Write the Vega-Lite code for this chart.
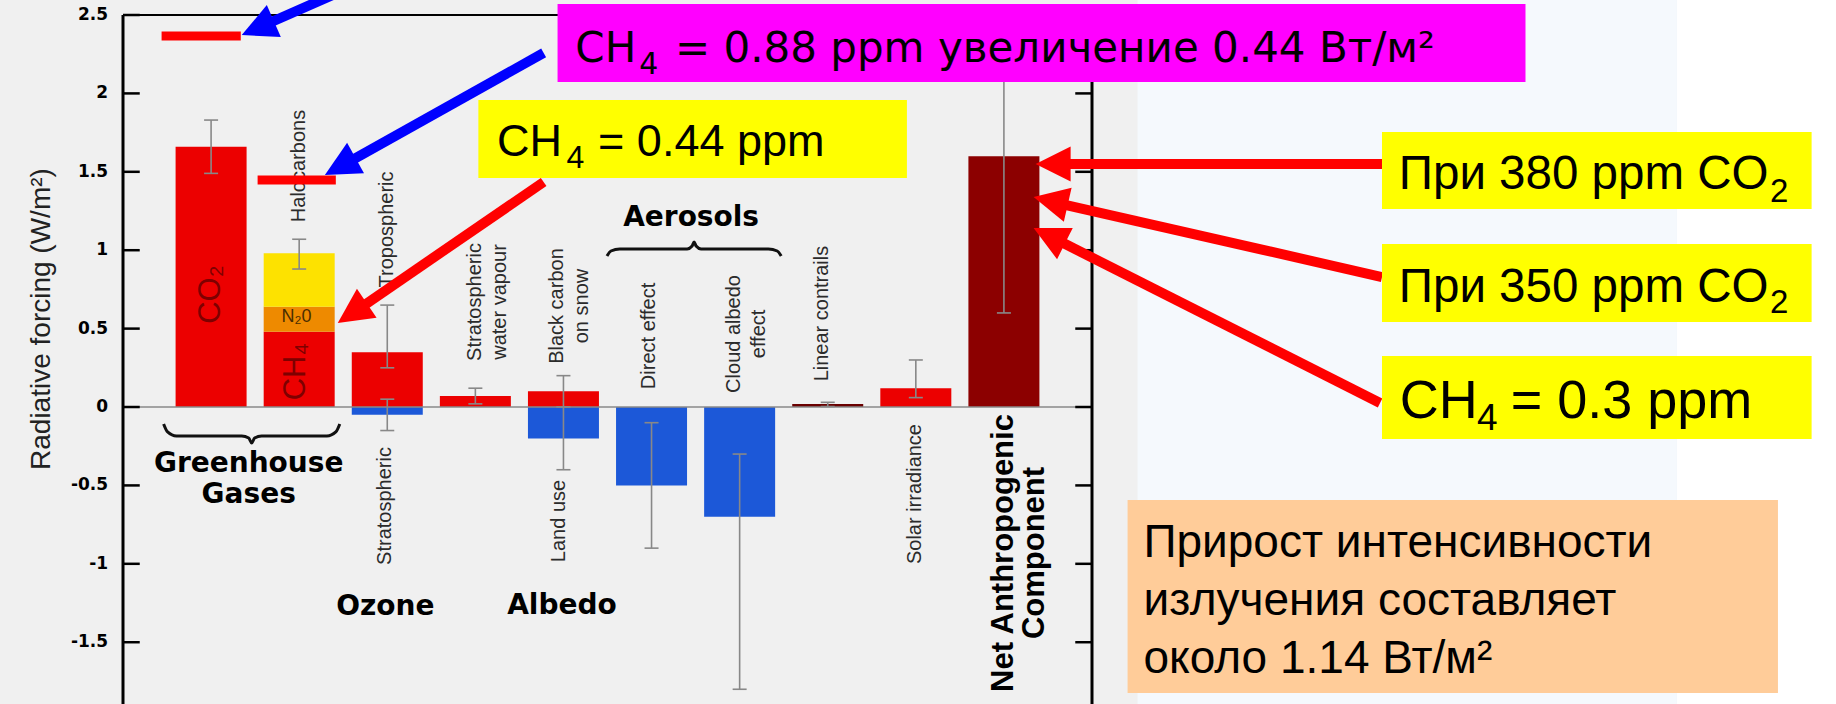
{
  "$schema": "https://vega.github.io/schema/vega-lite/v6.json",
  "width": 979,
  "height": 704,
  "autosize": {"type": "none"},
  "padding": {"left": 118, "right": 739, "top": 0, "bottom": 0},
  "background": "#f0f0f0",
  "config": {"view": {"stroke": null}},
  "datasets": {
    "bars": [
      {"cat": "CO2", "pos": 1, "lo": 0, "hi": 1.66, "comp": "pos"},
      {"cat": "CH4", "pos": 2, "lo": 0, "hi": 0.48, "comp": "pos"},
      {"cat": "N2O", "pos": 2, "lo": 0.48, "hi": 0.64, "comp": "n2o"},
      {"cat": "Halocarbons", "pos": 2, "lo": 0.64, "hi": 0.98, "comp": "halo"},
      {"cat": "Tropospheric ozone", "pos": 3, "lo": 0, "hi": 0.35, "comp": "pos"},
      {"cat": "Stratospheric ozone", "pos": 3, "lo": -0.05, "hi": 0, "comp": "neg"},
      {"cat": "Stratospheric water vapour", "pos": 4, "lo": 0, "hi": 0.07, "comp": "pos"},
      {"cat": "Black carbon on snow", "pos": 5, "lo": 0, "hi": 0.1, "comp": "pos"},
      {"cat": "Land use", "pos": 5, "lo": -0.2, "hi": 0, "comp": "neg"},
      {"cat": "Direct effect", "pos": 6, "lo": -0.5, "hi": 0, "comp": "neg"},
      {"cat": "Cloud albedo effect", "pos": 7, "lo": -0.7, "hi": 0, "comp": "neg"},
      {"cat": "Linear contrails", "pos": 8, "lo": 0, "hi": 0.02, "comp": "contrail"},
      {"cat": "Solar irradiance", "pos": 9, "lo": 0, "hi": 0.12, "comp": "pos"},
      {"cat": "Net Anthropogenic Component", "pos": 10, "lo": 0, "hi": 1.6, "comp": "net"}
    ],
    "err": [
      {"pos": 1, "lo": 1.49, "hi": 1.83},
      {"pos": 2, "lo": 0.88, "hi": 1.07},
      {"pos": 3, "lo": 0.25, "hi": 0.65},
      {"pos": 3, "lo": -0.15, "hi": 0.05},
      {"pos": 4, "lo": 0.02, "hi": 0.12},
      {"pos": 5, "lo": 0.0, "hi": 0.2},
      {"pos": 5, "lo": -0.4, "hi": 0.0},
      {"pos": 6, "lo": -0.9, "hi": -0.1},
      {"pos": 7, "lo": -1.8, "hi": -0.3},
      {"pos": 8, "lo": 0.003, "hi": 0.03},
      {"pos": 9, "lo": 0.06, "hi": 0.3},
      {"pos": 10, "lo": 0.6, "hi": 2.4}
    ],
    "ticks": [
      {"v": -1.5, "lab": "-1.5"}, {"v": -1, "lab": "-1"}, {"v": -0.5, "lab": "-0.5"}, {"v": 0, "lab": "0"},
      {"v": 0.5, "lab": "0.5"}, {"v": 1, "lab": "1"}, {"v": 1.5, "lab": "1.5"}, {"v": 2, "lab": "2"}, {"v": 2.5, "lab": "2.5"}
    ]
  },
  "layer": [
    {
      "data": {"values": [{"a": 11.517, "b": 17.64}]},
      "mark": {"type": "rect", "fill": "#f5f9fd"},
      "encoding": {
        "x": {"field": "a", "type": "quantitative", "scale": {"domain": [0, 11], "nice": false, "zero": false}, "axis": null},
        "x2": {"field": "b"},
        "y": {"datum": 2.7, "type": "quantitative", "scale": {"domain": [-1.894, 2.5957], "nice": false, "zero": false}, "axis": null},
        "y2": {"datum": -2.0}
      }
    },
    {
      "data": {"values": [{"a": 17.64, "b": 19.5}]},
      "mark": {"type": "rect", "fill": "#ffffff"},
      "encoding": {
        "x": {"field": "a", "type": "quantitative", "axis": null},
        "x2": {"field": "b"},
        "y": {"datum": 2.7, "type": "quantitative", "axis": null},
        "y2": {"datum": -2.0}
      }
    },
    {
      "data": {"name": "bars"},
      "mark": {"type": "bar", "width": 71},
      "encoding": {
        "x": {"field": "pos", "type": "quantitative", "axis": null},
        "y": {"field": "lo", "type": "quantitative", "axis": null},
        "y2": {"field": "hi"},
        "color": {
          "field": "comp", "type": "nominal", "legend": null,
          "scale": {"domain": ["pos", "neg", "n2o", "halo", "net", "contrail"], "range": ["#ec0000", "#1c58d8", "#ee8a00", "#fde200", "#8c0000", "#6a0000"]}
        }
      }
    },
    {
      "data": {"name": "ticks"},
      "mark": {"type": "text", "align": "right", "baseline": "middle", "font": "DejaVu Sans", "fontWeight": "bold", "fontSize": 17, "fill": "#000000"},
      "encoding": {
        "x": {"datum": -0.169, "type": "quantitative", "axis": null},
        "y": {"field": "v", "type": "quantitative", "axis": null},
        "text": {"field": "lab"}
      }
    },
    {
      "data": {"values": [{"t": "Radiative forcing (W/m²)"}]},
      "mark": {"type": "text", "angle": 270, "align": "center", "baseline": "alphabetic", "font": "Liberation Sans", "fontSize": 28, "fill": "#222222"},
      "encoding": {
        "x": {"datum": -0.831, "type": "quantitative", "axis": null},
        "y": {"datum": 0.561, "type": "quantitative", "axis": null},
        "text": {"field": "t"}
      }
    },
    {
      "data": {"values": [{}]},
      "mark": {"type": "rule", "stroke": "#8a8a8a", "strokeWidth": 1.3},
      "encoding": {
        "x": {"datum": 0, "type": "quantitative", "axis": null},
        "x2": {"datum": 11},
        "y": {"datum": 0, "type": "quantitative", "axis": null}
      }
    },
    {
      "data": {"values": [{}]},
      "mark": {"type": "rule", "stroke": "#000000", "strokeWidth": 3},
      "encoding": {
        "x": {"datum": 0, "type": "quantitative", "axis": null},
        "y": {"datum": -1.95, "type": "quantitative", "axis": null},
        "y2": {"datum": 2.5}
      }
    },
    {
      "data": {"values": [{}]},
      "mark": {"type": "rule", "stroke": "#000000", "strokeWidth": 3},
      "encoding": {
        "x": {"datum": 11, "type": "quantitative", "axis": null},
        "y": {"datum": -1.95, "type": "quantitative", "axis": null},
        "y2": {"datum": 2.5}
      }
    },
    {
      "data": {"values": [{}]},
      "mark": {"type": "rule", "stroke": "#000000", "strokeWidth": 2},
      "encoding": {
        "x": {"datum": 0, "type": "quantitative", "axis": null},
        "x2": {"datum": 11},
        "y": {"datum": 2.5, "type": "quantitative", "axis": null}
      }
    },
    {
      "data": {"name": "ticks"},
      "mark": {"type": "rule", "stroke": "#000000", "strokeWidth": 2.5},
      "encoding": {
        "x": {"datum": 0, "type": "quantitative", "axis": null},
        "x2": {"datum": 0.19},
        "y": {"field": "v", "type": "quantitative", "axis": null}
      }
    },
    {
      "data": {"name": "ticks"},
      "mark": {"type": "rule", "stroke": "#000000", "strokeWidth": 2.5},
      "encoding": {
        "x": {"datum": 10.81, "type": "quantitative", "axis": null},
        "x2": {"datum": 11},
        "y": {"field": "v", "type": "quantitative", "axis": null}
      }
    },
    {
      "data": {"name": "err"},
      "mark": {"type": "rule", "stroke": "#888888", "strokeWidth": 1.6},
      "encoding": {
        "x": {"field": "pos", "type": "quantitative", "axis": null},
        "y": {"field": "lo", "type": "quantitative", "axis": null},
        "y2": {"field": "hi"}
      }
    },
    {
      "data": {"name": "err"},
      "transform": [{"fold": ["lo", "hi"], "as": ["end", "val"]}],
      "mark": {"type": "tick", "orient": "horizontal", "size": 14, "thickness": 1.6, "color": "#888888", "opacity": 1},
      "encoding": {
        "x": {"field": "pos", "type": "quantitative", "axis": null},
        "y": {"field": "val", "type": "quantitative", "axis": null}
      }
    },
    {
      "data": {"values": [
        {"pos": 2, "v": 1.537, "t": "Halocarbons"},
        {"pos": 3, "v": 1.132, "t": "Tropospheric"},
        {"pos": 4, "v": 0.67, "t": "Stratospheric\nwater vapour"},
        {"pos": 4.93, "v": 0.644, "t": "Black carbon\non snow"},
        {"pos": 5.97, "v": 0.453, "t": "Direct effect"},
        {"pos": 6.94, "v": 0.466, "t": "Cloud albedo\neffect"},
        {"pos": 7.93, "v": 0.596, "t": "Linear contrails"},
        {"pos": 2.97, "v": -0.631, "t": "Stratospheric"},
        {"pos": 4.95, "v": -0.727, "t": "Land use"},
        {"pos": 8.99, "v": -0.555, "t": "Solar irradiance"}
      ]},
      "mark": {"type": "text", "angle": 270, "align": "center", "baseline": "middle", "font": "Liberation Sans", "fontSize": 20, "lineHeight": 25, "lineBreak": "\n", "fill": "#2b2b2b"},
      "encoding": {
        "x": {"field": "pos", "type": "quantitative", "axis": null},
        "y": {"field": "v", "type": "quantitative", "axis": null},
        "text": {"field": "t"}
      }
    },
    {
      "data": {"values": [{"pos": 1, "v": 0.717, "t": "CO₂"}, {"pos": 1.96, "v": 0.226, "t": "CH₄"}]},
      "mark": {"type": "text", "angle": 270, "align": "center", "baseline": "middle", "font": "Liberation Sans", "fontSize": 31, "fill": "#7e0000"},
      "encoding": {
        "x": {"field": "pos", "type": "quantitative", "axis": null},
        "y": {"field": "v", "type": "quantitative", "axis": null},
        "text": {"field": "t"}
      }
    },
    {
      "data": {"values": [{"pos": 1.97, "v": 0.571, "t": "N₂0"}]},
      "mark": {"type": "text", "align": "center", "baseline": "middle", "font": "Liberation Sans", "fontSize": 18, "fill": "#4a2e00"},
      "encoding": {
        "x": {"field": "pos", "type": "quantitative", "axis": null},
        "y": {"field": "v", "type": "quantitative", "axis": null},
        "text": {"field": "t"}
      }
    },
    {
      "data": {"values": [{"pos": 10, "v": -0.931, "t": "Net Anthropogenic\nComponent"}]},
      "mark": {"type": "text", "angle": 270, "align": "center", "baseline": "middle", "font": "Liberation Sans", "fontWeight": "bold", "fontSize": 31, "lineHeight": 31, "lineBreak": "\n", "fill": "#000000"},
      "encoding": {
        "x": {"field": "pos", "type": "quantitative", "axis": null},
        "y": {"field": "v", "type": "quantitative", "axis": null},
        "text": {"field": "t"}
      }
    },
    {
      "data": {"values": [
        {"x": 1.427, "v": -0.4145, "t": "Greenhouse\nGases"},
        {"x": 2.978, "v": -1.3265, "t": "Ozone"},
        {"x": 4.983, "v": -1.32, "t": "Albedo"},
        {"x": 6.449, "v": 1.155, "t": "Aerosols"}
      ]},
      "mark": {"type": "text", "align": "center", "baseline": "alphabetic", "font": "DejaVu Sans", "fontWeight": "bold", "fontSize": 28, "lineHeight": 31, "lineBreak": "\n", "fill": "#000000"},
      "encoding": {
        "x": {"field": "x", "type": "quantitative", "axis": null},
        "y": {"field": "v", "type": "quantitative", "axis": null},
        "text": {"field": "t"}
      }
    },
    {
      "data": {"values": [
        {"b": "g", "x": 0.461, "v": -0.108}, {"b": "g", "x": 0.506, "v": -0.159}, {"b": "g", "x": 0.607, "v": -0.185},
        {"b": "g", "x": 1.348, "v": -0.185}, {"b": "g", "x": 1.427, "v": -0.198}, {"b": "g", "x": 1.461, "v": -0.23},
        {"b": "g", "x": 1.494, "v": -0.198}, {"b": "g", "x": 1.573, "v": -0.185}, {"b": "g", "x": 2.315, "v": -0.185},
        {"b": "g", "x": 2.416, "v": -0.159}, {"b": "g", "x": 2.461, "v": -0.108},
        {"b": "a", "x": 5.494, "v": 0.963}, {"b": "a", "x": 5.539, "v": 0.995}, {"b": "a", "x": 5.64, "v": 1.008},
        {"b": "a", "x": 6.404, "v": 1.008}, {"b": "a", "x": 6.461, "v": 1.027}, {"b": "a", "x": 6.483, "v": 1.052},
        {"b": "a", "x": 6.506, "v": 1.027}, {"b": "a", "x": 6.562, "v": 1.008}, {"b": "a", "x": 7.326, "v": 1.008},
        {"b": "a", "x": 7.427, "v": 0.995}, {"b": "a", "x": 7.472, "v": 0.963}
      ]},
      "mark": {"type": "line", "interpolate": "monotone", "stroke": "#111111", "strokeWidth": 3},
      "encoding": {
        "x": {"field": "x", "type": "quantitative", "axis": null},
        "y": {"field": "v", "type": "quantitative", "axis": null},
        "detail": {"field": "b"}
      }
    },
    {
      "data": {"values": [{"a": 0.438, "b": 1.337, "v": 2.366}, {"a": 1.528, "b": 2.416, "v": 1.448}]},
      "mark": {"type": "rule", "stroke": "#ff0000", "strokeWidth": 9},
      "encoding": {
        "x": {"field": "a", "type": "quantitative", "axis": null},
        "x2": {"field": "b"},
        "y": {"field": "v", "type": "quantitative", "axis": null}
      }
    },
    {
      "data": {"values": [
        {"x1": 4.775, "y1": 1.435, "x2": 2.674, "y2": 0.625},
        {"x1": 14.292, "y1": 1.55, "x2": 10.64, "y2": 1.55},
        {"x1": 14.292, "y1": 0.829, "x2": 10.607, "y2": 1.301},
        {"x1": 14.27, "y1": 0.026, "x2": 10.584, "y2": 1.071}
      ]},
      "mark": {"type": "rule", "stroke": "#ff0000", "strokeWidth": 10},
      "encoding": {
        "x": {"field": "x1", "type": "quantitative", "axis": null},
        "y": {"field": "y1", "type": "quantitative", "axis": null},
        "x2": {"field": "x2"},
        "y2": {"field": "y2"}
      }
    },
    {
      "data": {"values": [
        {"x1": 2.382, "y1": 2.628, "x2": 1.607, "y2": 2.436},
        {"x1": 4.775, "y1": 2.258, "x2": 2.539, "y2": 1.556}
      ]},
      "mark": {"type": "rule", "stroke": "#0000ff", "strokeWidth": 10},
      "encoding": {
        "x": {"field": "x1", "type": "quantitative", "axis": null},
        "y": {"field": "y1", "type": "quantitative", "axis": null},
        "x2": {"field": "x2"},
        "y2": {"field": "y2"}
      }
    },
    {
      "data": {"values": [
        {"x": 2.438, "v": 0.536, "dir": 235.9},
        {"x": 10.36, "v": 1.55, "dir": 270},
        {"x": 10.337, "v": 1.339, "dir": 282.8},
        {"x": 10.337, "v": 1.142, "dir": 296.6}
      ]},
      "mark": {"type": "point", "shape": "M0,0L-0.5,1L0.5,1Z", "size": 4900, "filled": true, "fill": "#ff0000", "opacity": 1, "strokeWidth": 0},
      "encoding": {
        "x": {"field": "x", "type": "quantitative", "axis": null},
        "y": {"field": "v", "type": "quantitative", "axis": null},
        "angle": {"field": "dir", "type": "quantitative", "scale": null}
      }
    },
    {
      "data": {"values": [
        {"x": 1.348, "v": 2.372, "dir": 246.4},
        {"x": 2.292, "v": 1.48, "dir": 241.1}
      ]},
      "mark": {"type": "point", "shape": "M0,0L-0.5,1L0.5,1Z", "size": 4900, "filled": true, "fill": "#0000ff", "opacity": 1, "strokeWidth": 0},
      "encoding": {
        "x": {"field": "x", "type": "quantitative", "axis": null},
        "y": {"field": "v", "type": "quantitative", "axis": null},
        "angle": {"field": "dir", "type": "quantitative", "scale": null}
      }
    },
    {
      "data": {"values": [{"a": 4.933, "b": 15.921, "t": 2.57, "u": 2.073}]},
      "mark": {"type": "rect", "fill": "#ff00ff"},
      "encoding": {
        "x": {"field": "a", "type": "quantitative", "axis": null},
        "x2": {"field": "b"},
        "y": {"field": "t", "type": "quantitative", "axis": null},
        "y2": {"field": "u"}
      }
    },
    {
      "data": {"values": [
        {"a": 4.034, "b": 8.899, "t": 1.958, "u": 1.46},
        {"a": 14.292, "b": 19.169, "t": 1.754, "u": 1.263},
        {"a": 14.292, "b": 19.169, "t": 1.04, "u": 0.542},
        {"a": 14.292, "b": 19.169, "t": 0.325, "u": -0.204}
      ]},
      "mark": {"type": "rect", "fill": "#ffff00"},
      "encoding": {
        "x": {"field": "a", "type": "quantitative", "axis": null},
        "x2": {"field": "b"},
        "y": {"field": "t", "type": "quantitative", "axis": null},
        "y2": {"field": "u"}
      }
    },
    {
      "data": {"values": [{"a": 11.404, "b": 18.787, "t": -0.593, "u": -1.824}]},
      "mark": {"type": "rect", "fill": "#ffcc99"},
      "encoding": {
        "x": {"field": "a", "type": "quantitative", "axis": null},
        "x2": {"field": "b"},
        "y": {"field": "t", "type": "quantitative", "axis": null},
        "y2": {"field": "u"}
      }
    },
    {
      "data": {"values": [{"x": 5.135, "v": 2.2, "t": "CH"}, {"x": 6.265, "v": 2.2, "t": "= 0.88 ppm увеличение 0.44 Вт/м²"}]},
      "mark": {"type": "text", "align": "left", "baseline": "alphabetic", "font": "DejaVu Sans", "fontSize": 42, "fill": "#000000"},
      "encoding": {
        "x": {"field": "x", "type": "quantitative", "axis": null},
        "y": {"field": "v", "type": "quantitative", "axis": null},
        "text": {"field": "t"}
      }
    },
    {
      "data": {"values": [{"x": 5.86, "v": 2.124, "t": "4"}]},
      "mark": {"type": "text", "align": "left", "baseline": "alphabetic", "font": "DejaVu Sans", "fontSize": 30, "fill": "#000000"},
      "encoding": {
        "x": {"field": "x", "type": "quantitative", "axis": null},
        "y": {"field": "v", "type": "quantitative", "axis": null},
        "text": {"field": "t"}
      }
    },
    {
      "data": {"values": [{"x": 4.247, "v": 1.601, "t": "CH"}, {"x": 5.393, "v": 1.601, "t": "= 0.44 ppm"}]},
      "mark": {"type": "text", "align": "left", "baseline": "alphabetic", "font": "Liberation Sans", "fontSize": 45, "fill": "#000000"},
      "encoding": {
        "x": {"field": "x", "type": "quantitative", "axis": null},
        "y": {"field": "v", "type": "quantitative", "axis": null},
        "text": {"field": "t"}
      }
    },
    {
      "data": {"values": [{"x": 5.034, "v": 1.524, "t": "4"}]},
      "mark": {"type": "text", "align": "left", "baseline": "alphabetic", "font": "Liberation Sans", "fontSize": 32, "fill": "#000000"},
      "encoding": {
        "x": {"field": "x", "type": "quantitative", "axis": null},
        "y": {"field": "v", "type": "quantitative", "axis": null},
        "text": {"field": "t"}
      }
    },
    {
      "data": {"values": [{"x": 14.483, "v": 1.39, "t": "При 380 ppm CO"}, {"x": 14.483, "v": 0.67, "t": "При 350 ppm CO"}]},
      "mark": {"type": "text", "align": "left", "baseline": "alphabetic", "font": "Liberation Sans", "fontSize": 47.5, "fill": "#000000"},
      "encoding": {
        "x": {"field": "x", "type": "quantitative", "axis": null},
        "y": {"field": "v", "type": "quantitative", "axis": null},
        "text": {"field": "t"}
      }
    },
    {
      "data": {"values": [{"x": 18.697, "v": 1.309, "t": "2"}, {"x": 18.697, "v": 0.598, "t": "2"}]},
      "mark": {"type": "text", "align": "left", "baseline": "alphabetic", "font": "Liberation Sans", "fontSize": 33, "fill": "#000000"},
      "encoding": {
        "x": {"field": "x", "type": "quantitative", "axis": null},
        "y": {"field": "v", "type": "quantitative", "axis": null},
        "text": {"field": "t"}
      }
    },
    {
      "data": {"values": [{"x": 14.494, "v": -0.07, "t": "CH"}, {"x": 15.753, "v": -0.07, "t": "= 0.3 ppm"}]},
      "mark": {"type": "text", "align": "left", "baseline": "alphabetic", "font": "Liberation Sans", "fontSize": 54, "fill": "#000000"},
      "encoding": {
        "x": {"field": "x", "type": "quantitative", "axis": null},
        "y": {"field": "v", "type": "quantitative", "axis": null},
        "text": {"field": "t"}
      }
    },
    {
      "data": {"values": [{"x": 15.371, "v": -0.147, "t": "4"}]},
      "mark": {"type": "text", "align": "left", "baseline": "alphabetic", "font": "Liberation Sans", "fontSize": 37, "fill": "#000000"},
      "encoding": {
        "x": {"field": "x", "type": "quantitative", "axis": null},
        "y": {"field": "v", "type": "quantitative", "axis": null},
        "text": {"field": "t"}
      }
    },
    {
      "data": {"values": [{"x": 11.584, "v": -0.957, "t": "Прирост интенсивности\nизлучения составляет\nоколо 1.14 Вт/м²"}]},
      "mark": {"type": "text", "align": "left", "baseline": "alphabetic", "font": "Liberation Sans", "fontSize": 46, "lineHeight": 58, "lineBreak": "\n", "fill": "#000000"},
      "encoding": {
        "x": {"field": "x", "type": "quantitative", "axis": null},
        "y": {"field": "v", "type": "quantitative", "axis": null},
        "text": {"field": "t"}
      }
    }
  ]
}
